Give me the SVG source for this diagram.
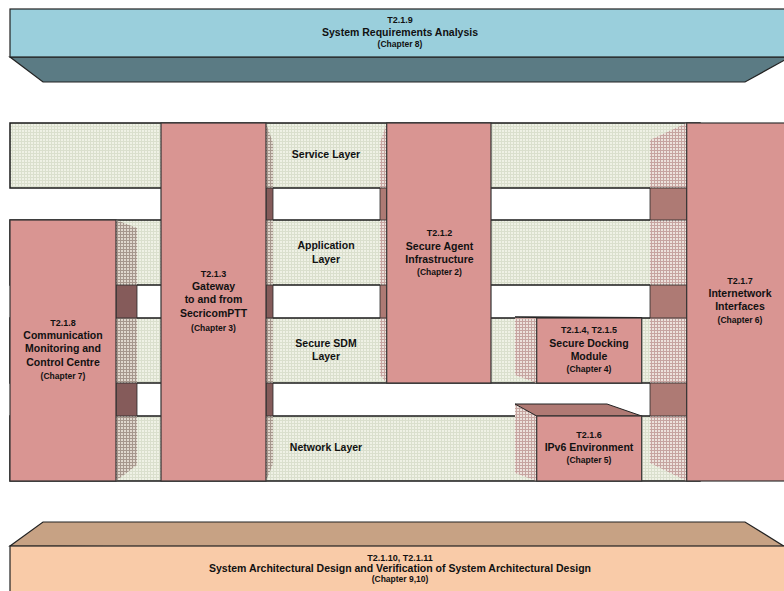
<svg xmlns="http://www.w3.org/2000/svg" width="784" height="591" viewBox="0 0 784 591">
<defs>
<pattern id="bandPat" width="3" height="3" patternUnits="userSpaceOnUse">
<rect width="3" height="3" fill="#eff1e5"/>
<path d="M0 0.5H3M0.5 0V3" stroke="#dadfcd" stroke-width="1"/>
</pattern>
<pattern id="hatchL" width="3" height="3" patternUnits="userSpaceOnUse">
<rect width="3" height="3" fill="#e0d8ce"/>
<path d="M0 0.5H3M0.5 0V3" stroke="#a6978d" stroke-width="1"/>
</pattern>
<pattern id="hatchR" width="3" height="3" patternUnits="userSpaceOnUse">
<rect width="3" height="3" fill="#ece2dc"/>
<path d="M0 0.5H3M0.5 0V3" stroke="#c6a4a0" stroke-width="1"/>
</pattern>
<style>
text{font-family:"Liberation Sans",Arial,sans-serif;font-weight:bold;fill:#111;text-anchor:middle}
.t{font-size:9px}
.m{font-size:10.5px}
.c{font-size:8.5px}
.band{fill:url(#bandPat);stroke:#1a1a1a;stroke-width:1.5}
.box{fill:#d99592;stroke:#333;stroke-width:1.2}
.faceL{fill:url(#hatchL)}
.faceR{fill:url(#hatchR)}
.gapL{fill:#855b5a;stroke:#2a2a2a;stroke-width:0.8}
.gapR{fill:#ae7a74;stroke:#2a2a2a;stroke-width:0.8}
</style>
</defs>
<rect width="784" height="591" fill="#ffffff"/>

<g id="system-requirements-analysis">
<polygon points="10,57 790,57 745,82 43,82" fill="#5b7b84" stroke="#222" stroke-width="1.2"/>
<rect x="10" y="9" width="780" height="48" fill="#9acfdc" stroke="#222" stroke-width="1.2"/>
<text class="t" x="400" y="23">T2.1.9</text>
<text class="m" x="400" y="36">System Requirements Analysis</text>
<text class="c" x="400" y="47">(Chapter 8)</text>
</g>

<g id="layers">
<g id="service-layer">
<rect class="band" x="10" y="123" width="690" height="65"/>
<text class="m" x="326" y="158">Service Layer</text>
</g>
<g id="application-layer">
<rect class="band" x="10" y="220" width="690" height="65"/>
<text class="m" x="326" y="249">Application</text>
<text class="m" x="326" y="263">Layer</text>
</g>
<g id="secure-sdm-layer">
<rect class="band" x="10" y="318" width="690" height="65"/>
<text class="m" x="326" y="346.5">Secure SDM</text>
<text class="m" x="326" y="360">Layer</text>
</g>
<g id="network-layer">
<rect class="band" x="10" y="416" width="690" height="65"/>
<text class="m" x="326" y="451">Network Layer</text>
</g>
</g>

<g id="connectors"></g>

<g id="t218-communication-monitoring">
<polygon class="faceL" points="116,220 137,228 137,465 116,481"/>
<rect class="gapL" x="116" y="285" width="21" height="33"/>
<rect class="gapL" x="116" y="383" width="21" height="33"/>
<rect class="box" x="10" y="220" width="106" height="261"/>
<text class="t" x="63" y="325.5">T2.1.8</text>
<text class="m" x="63" y="339">Communication</text>
<text class="m" x="63" y="352">Monitoring and</text>
<text class="m" x="63" y="365.5">Control Centre</text>
<text class="c" x="63" y="379">(Chapter 7)</text>
</g>

<g id="t213-gateway">
<polygon class="faceL" points="266,123 273,143 273,464 266,481"/>
<rect class="gapL" x="266" y="188" width="7" height="32"/>
<rect class="gapL" x="266" y="285" width="7" height="33"/>
<rect class="gapL" x="266" y="383" width="7" height="33"/>
<rect class="box" x="161" y="123" width="105" height="358"/>
<text class="t" x="213.5" y="276.5">T2.1.3</text>
<text class="m" x="213.5" y="289.5">Gateway</text>
<text class="m" x="213.5" y="303.3">to and from</text>
<text class="m" x="213.5" y="317.3">SecricomPTT</text>
<text class="c" x="213.5" y="330.5">(Chapter 3)</text>
</g>

<g id="t212-secure-agent-infrastructure">
<polygon class="faceR" points="386.7,123 380,143 380,375 386.7,383"/>
<rect class="gapR" x="380" y="188" width="6.7" height="32"/>
<rect class="gapR" x="380" y="285" width="6.7" height="33"/>
<rect class="box" x="386.7" y="123" width="104.3" height="260"/>
<text class="t" x="439.5" y="236">T2.1.2</text>
<text class="m" x="439.5" y="250">Secure Agent</text>
<text class="m" x="439.5" y="262.7">Infrastructure</text>
<text class="c" x="439.5" y="275">(Chapter 2)</text>
</g>

<g id="t217-internetwork-interfaces">
<polygon class="faceR" points="686.7,123 650,140 650,463 686.7,481"/>
<rect class="gapR" x="650" y="188" width="36.7" height="32"/>
<rect class="gapR" x="650" y="285" width="36.7" height="33"/>
<rect class="gapR" x="650" y="383" width="36.7" height="33"/>
<rect class="box" x="686.7" y="123" width="110" height="358"/>
<text class="t" x="740" y="284">T2.1.7</text>
<text class="m" x="740" y="296.7">Internetwork</text>
<text class="m" x="740" y="310">Interfaces</text>
<text class="c" x="740" y="323.3">(Chapter 6)</text>
</g>

<g id="t214-t215-secure-docking-module">
<polygon class="faceR" points="515,317 536.7,318 536.7,383 515,375"/>
<line x1="515" y1="317" x2="641.7" y2="317.7" stroke="#1a1a1a" stroke-width="1.6"/>
<rect class="box" x="536.7" y="318" width="105" height="65"/>
<text class="t" x="589" y="333.3">T2.1.4, T2.1.5</text>
<text class="m" x="589" y="346.7">Secure Docking</text>
<text class="m" x="589" y="360">Module</text>
<text class="c" x="589" y="372.3">(Chapter 4)</text>
</g>

<g id="t216-ipv6-environment">
<polygon class="faceR" points="515,404 536.7,416 536.7,481 515,473"/>
<polygon points="515,404 607,404 641.7,416 536.7,416" fill="#b07a74" stroke="#222" stroke-width="1"/>
<rect class="box" x="536.7" y="416" width="105" height="65"/>
<text class="t" x="589" y="438.3">T2.1.6</text>
<text class="m" x="589" y="451">IPv6 Environment</text>
<text class="c" x="589" y="462.7">(Chapter 5)</text>
</g>

<g id="system-architectural-design">
<polygon points="10,546 43,522 745,522 790,550" fill="#c7a284" stroke="#222" stroke-width="1.2"/>
<rect x="10" y="546" width="780" height="50" fill="#f9cba8" stroke="#222" stroke-width="1.2"/>
<text class="t" x="400" y="561">T2.1.10, T2.1.11</text>
<text class="m" x="400" y="572">System Architectural Design and Verification of System Architectural Design</text>
<text class="c" x="400" y="582">(Chapter 9,10)</text>
</g>
</svg>
